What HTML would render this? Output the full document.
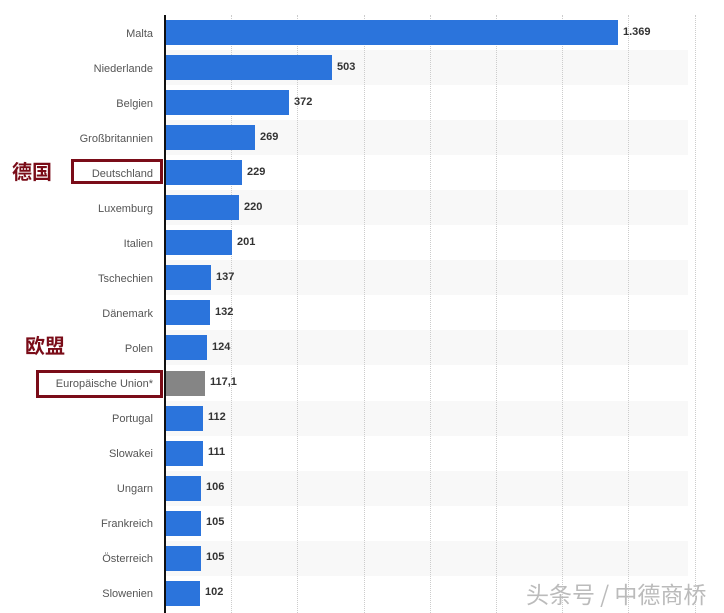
<!DOCTYPE html><html><head><meta charset="utf-8"><style>
body{margin:0;width:724px;height:613px;background:#fff;position:relative;overflow:hidden;font-family:"Liberation Sans","DejaVu Sans",sans-serif}
div{position:absolute}
.s{left:166px;width:522px;height:35px;background:#f8f8f8}
.g{top:15px;height:598px;width:0;border-left:1px dotted #ccc}
.l{right:571px;font-size:11px;color:#555;text-align:right;white-space:nowrap;line-height:14px}
.b{left:166px;height:25px;background:#2b74dc}
.v{font-size:11px;font-weight:bold;color:#333;line-height:14px}
.cn{font-family:"Noto Sans CJK SC",sans-serif;font-weight:bold;font-size:20px;color:#7a0c18;line-height:24px}
.box{border:3px solid #7a0c18;box-sizing:border-box}
</style></head><body>
<div id="c"></div>
<div class="box" style="left:71px;top:159px;width:92px;height:25px"></div>
<div class="box" style="left:36px;top:370px;width:127px;height:28px"></div>
<div class="cn" style="left:12px;top:159px">德国</div>
<div class="cn" style="left:25px;top:333px">欧盟</div>
<div style="left:526px;top:578px;font-family:'Noto Sans CJK SC',sans-serif;font-size:23px;color:#bbb;line-height:30px;white-space:nowrap">头条号 / 中德商桥</div>
<div style="left:164px;top:15px;width:2px;height:598px;background:#111"></div>
<script>
var d=[["Malta",1369,"1.369"],["Niederlande",503],["Belgien",372],["Großbritannien",269],["Deutschland",229],["Luxemburg",220],["Italien",201],["Tschechien",137],["Dänemark",132],["Polen",124],["Europäische Union*",117.1,"117,1"],["Portugal",112],["Slowakei",111],["Ungarn",106],["Frankreich",105],["Österreich",105],["Slowenien",102]];
var h="";
d.forEach(function(r,i){var c=32.5+35.05*i;if(i%2)h+='<div class="s" style="top:'+(c-17.5)+'px"></div>';});
for(var k=1;k<=8;k++)h+='<div class="g" style="left:'+Math.round(165+66.2*k)+'px"></div>';
d.forEach(function(r,i){var c=32.5+35.05*i,w=Math.round(r[1]*0.33);
h+='<div class="l" style="top:'+(c-6)+'px">'+r[0]+'</div>';
h+='<div class="b" style="top:'+(c-12.5)+'px;width:'+w+'px'+(i==10?';background:#858585':'')+'"></div>';
h+='<div class="v" style="left:'+(166+w+5)+'px;top:'+(c-8)+'px">'+(r[2]||r[1])+'</div>';});
document.getElementById("c").outerHTML=h;
</script>
</body></html>
